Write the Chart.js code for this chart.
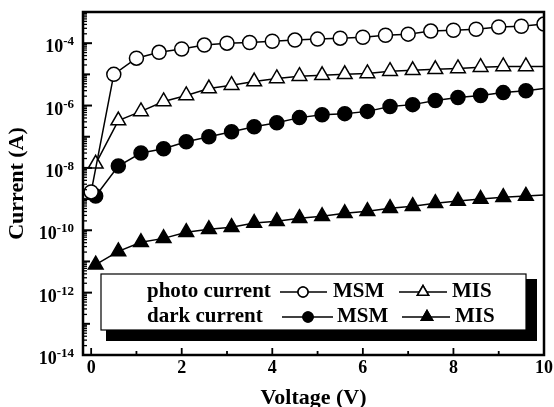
<!DOCTYPE html>
<html><head><meta charset="utf-8">
<script src="https://cdn.jsdelivr.net/npm/chart.js@4/dist/chart.umd.min.js"></script>
<style>html,body{margin:0;padding:0;background:#fff;}canvas{display:block;}</style>
</head><body>
<canvas id="c" width="554" height="407"></canvas>
<script>
// ---- data (current in A, voltage in V) ----
const voltsPhotoMSM = [0,0.5,1,1.5,2,2.5,3,3.5,4,4.5,5,5.5,6,6.5,7,7.5,8,8.5,9,9.5,10];
const photoMSM = [1.7e-9,1.0e-5,3.3e-5,5.1e-5,6.5e-5,8.7e-5,1.0e-4,1.05e-4,1.15e-4,1.26e-4,1.35e-4,1.45e-4,1.55e-4,1.8e-4,1.95e-4,2.45e-4,2.6e-4,2.8e-4,3.3e-4,3.5e-4,4.1e-4];
const voltsOther = [0.1,0.6,1.1,1.6,2.1,2.6,3.1,3.6,4.1,4.6,5.1,5.6,6.1,6.6,7.1,7.6,8.1,8.6,9.1,9.6,10];
const photoMIS = [1.35e-8,3.3e-7,6.5e-7,1.35e-6,2.1e-6,3.5e-6,4.5e-6,5.9e-6,7.4e-6,8.7e-6,9.3e-6,1.0e-5,1.07e-5,1.26e-5,1.35e-5,1.45e-5,1.55e-5,1.7e-5,1.8e-5,1.8e-5,1.8e-5];
const darkMSM = [1.26e-9,1.15e-8,3.0e-8,4.1e-8,6.9e-8,1.0e-7,1.45e-7,2.1e-7,2.8e-7,4.1e-7,5.1e-7,5.5e-7,6.5e-7,9.3e-7,1.07e-6,1.45e-6,1.8e-6,2.1e-6,2.6e-6,3.0e-6,3.5e-6];
const darkMIS = [7.9e-12,2.1e-11,4.1e-11,5.5e-11,8.7e-11,1.07e-10,1.26e-10,1.7e-10,1.95e-10,2.45e-10,2.8e-10,3.5e-10,4.1e-10,5.1e-10,5.9e-10,7.4e-10,8.7e-10,1.0e-9,1.15e-9,1.26e-9,1.35e-9];

const xTickValues = [0,2,4,6,8,10];
const yTickValues = [1e-14,1e-12,1e-10,1e-8,1e-6,1e-4];
const yTickBase = "10";
const yTickExponents = ["-14","-12","-10","-8","-6","-4"];
const xTitle = "Voltage (V)";
const yTitle = "Current (A)";
const legendRowLabels = ["photo current","dark current"];
const legendSeriesLabels = ["MSM","MIS"];

// ---- styling ----
const FONT = "'Liberation Serif','Times New Roman',serif";
const toXY = (xs, ys) => xs.map((v,i)=>({x:v,y:ys[i]}));
const lastHidden = (n, r) => (ctx) => ctx.dataIndex === n-1 ? 0 : r;

function ds(label, xs, ys, style, filled, r, hideLast){
  return {
    label, data: toXY(xs, ys),
    borderColor:'#000', borderWidth:1.5,
    pointStyle: style,
    pointRadius: hideLast ? lastHidden(xs.length, r) : r,
    pointHoverRadius: hideLast ? lastHidden(xs.length, r) : r,
    pointBackgroundColor: filled ? '#000' : '#fff',
    pointBorderColor:'#000', pointBorderWidth:1.5,
    tension:0, fill:false
  };
}

const framePlugin = {
  id:'framePlugin',
  afterDatasetsDraw(chart){
    const {ctx, chartArea:a, scales:{x,y}} = chart;
    ctx.save();
    ctx.strokeStyle='#000';
    ctx.lineCap='butt';
    // inner x ticks
    ctx.lineWidth=1.8;
    for(let v=0; v<=10; v++){
      const px=x.getPixelForValue(v);
      const len = v%2===0 ? 7 : 4;
      ctx.beginPath(); ctx.moveTo(px,a.bottom); ctx.lineTo(px,a.bottom-len); ctx.stroke();
    }
    // inner y ticks (log)
    for(let e=-14; e<=-4; e++){
      for(let m=1; m<10; m++){
        const val = m*Math.pow(10,e);
        const py=y.getPixelForValue(val);
        let len = 4;
        if(m===1) len = (e%2===0) ? 9 : 7;
        ctx.lineWidth = m===1 ? 2 : 1.3;
        ctx.beginPath(); ctx.moveTo(a.left,py); ctx.lineTo(a.left+len,py); ctx.stroke();
      }
    }
    // frame
    ctx.lineWidth=2.5;
    ctx.strokeRect(a.left,a.top,a.right-a.left,a.bottom-a.top);

    // y tick labels with superscript exponents, placed through the y scale
    ctx.fillStyle='#000';
    ctx.textBaseline='alphabetic';
    yTickValues.forEach((v,i)=>{
      const py = y.getPixelForValue(v);
      ctx.font = "bold 13px "+FONT;
      const ew = ctx.measureText(yTickExponents[i]).width;
      const right = a.left - 9;
      ctx.textAlign='left';
      ctx.fillText(yTickExponents[i], right-ew, py+2);
      ctx.font = "bold 18px "+FONT;
      const bw = ctx.measureText(yTickBase).width;
      ctx.fillText(yTickBase, right-ew-bw, py+9);
    });

    // legend box with shadow
    const bx=101, by=274, bw=425, bh=56;
    ctx.fillStyle='#000';
    ctx.fillRect(bx+5, by+5, bw+6, bh+6);
    ctx.fillStyle='#fff';
    ctx.fillRect(bx,by,bw,bh);
    ctx.lineWidth=1.2;
    ctx.strokeRect(bx,by,bw,bh);

    ctx.fillStyle='#000';
    ctx.font = "bold 21px "+FONT;
    ctx.textBaseline='middle';
    ctx.textAlign='left';
    const rows=[292,317];
    ctx.fillText(legendRowLabels[0],147,rows[0]);
    ctx.fillText(legendRowLabels[1],147,rows[1]);
    const samples=[
      {y:rows[0], x1:280, x2:327, mx:303, style:'circle', filled:false, tx:333, t:legendSeriesLabels[0]},
      {y:rows[0], x1:399, x2:447, mx:423, style:'triangle', filled:false, tx:452, t:legendSeriesLabels[1]},
      {y:rows[1], x1:282, x2:333, mx:308, style:'circle', filled:true, tx:337, t:legendSeriesLabels[0]},
      {y:rows[1], x1:402, x2:450, mx:427, style:'triangle', filled:true, tx:455, t:legendSeriesLabels[1]}
    ];
    samples.forEach(s=>{
      ctx.lineWidth=1.5;
      ctx.beginPath(); ctx.moveTo(s.x1,s.y); ctx.lineTo(s.x2,s.y); ctx.stroke();
      ctx.fillStyle = s.filled ? '#000' : '#fff';
      Chart.helpers.drawPoint(ctx,{pointStyle:s.style, radius: s.style==='circle'?5:6.5, borderWidth:1.2, rotation:0}, s.mx, s.y);
      ctx.fill(); ctx.stroke();
      ctx.fillStyle='#000';
      ctx.fillText(s.t, s.tx, s.y);
    });
    ctx.restore();
  }
};

new Chart(document.getElementById('c'), {
  type:'line',
  data:{ datasets:[
    ds('photo current MSM', voltsPhotoMSM, photoMSM, 'circle', false, 7, false),
    ds('photo current MIS', voltsOther, photoMIS, 'triangle', false, 8.5, true),
    ds('dark current MSM', voltsOther, darkMSM, 'circle', true, 7, true),
    ds('dark current MIS', voltsOther, darkMIS, 'triangle', true, 8.5, true)
  ]},
  options:{
    responsive:false, animation:false, devicePixelRatio:1,
    layout:{padding:{left:0,top:12,right:0,bottom:0}},
    plugins:{legend:{display:false}, tooltip:{enabled:false}},
    scales:{
      x:{
        type:'linear', min:-0.18, max:10,
        afterBuildTicks:(s)=>{ s.ticks = xTickValues.map(v=>({value:v})); },
        afterFit:(s)=>{ s.height = 52; },
        grid:{display:false, drawTicks:false},
        border:{display:false},
        ticks:{ color:'#000', font:{family:FONT, size:18, weight:'bold', lineHeight:1.45}, padding:0, maxRotation:0, autoSkip:false },
        title:{display:true, text:xTitle, color:'#000', font:{family:FONT, size:22, weight:'bold', lineHeight:0.8}, padding:{top:0,bottom:0}}
      },
      y:{
        type:'logarithmic', min:1e-14, max:1e-3,
        afterBuildTicks:(s)=>{ s.ticks = yTickValues.map(v=>({value:v})); },
        afterFit:(s)=>{ s.width = 83; },
        grid:{display:false, drawTicks:false},
        border:{display:false},
        ticks:{ display:false },
        title:{display:true, text:yTitle, color:'#000', font:{family:FONT, size:22, weight:'bold'}, padding:{top:4,bottom:0}}
      }
    }
  },
  plugins:[framePlugin]
});
</script>
</body></html>
